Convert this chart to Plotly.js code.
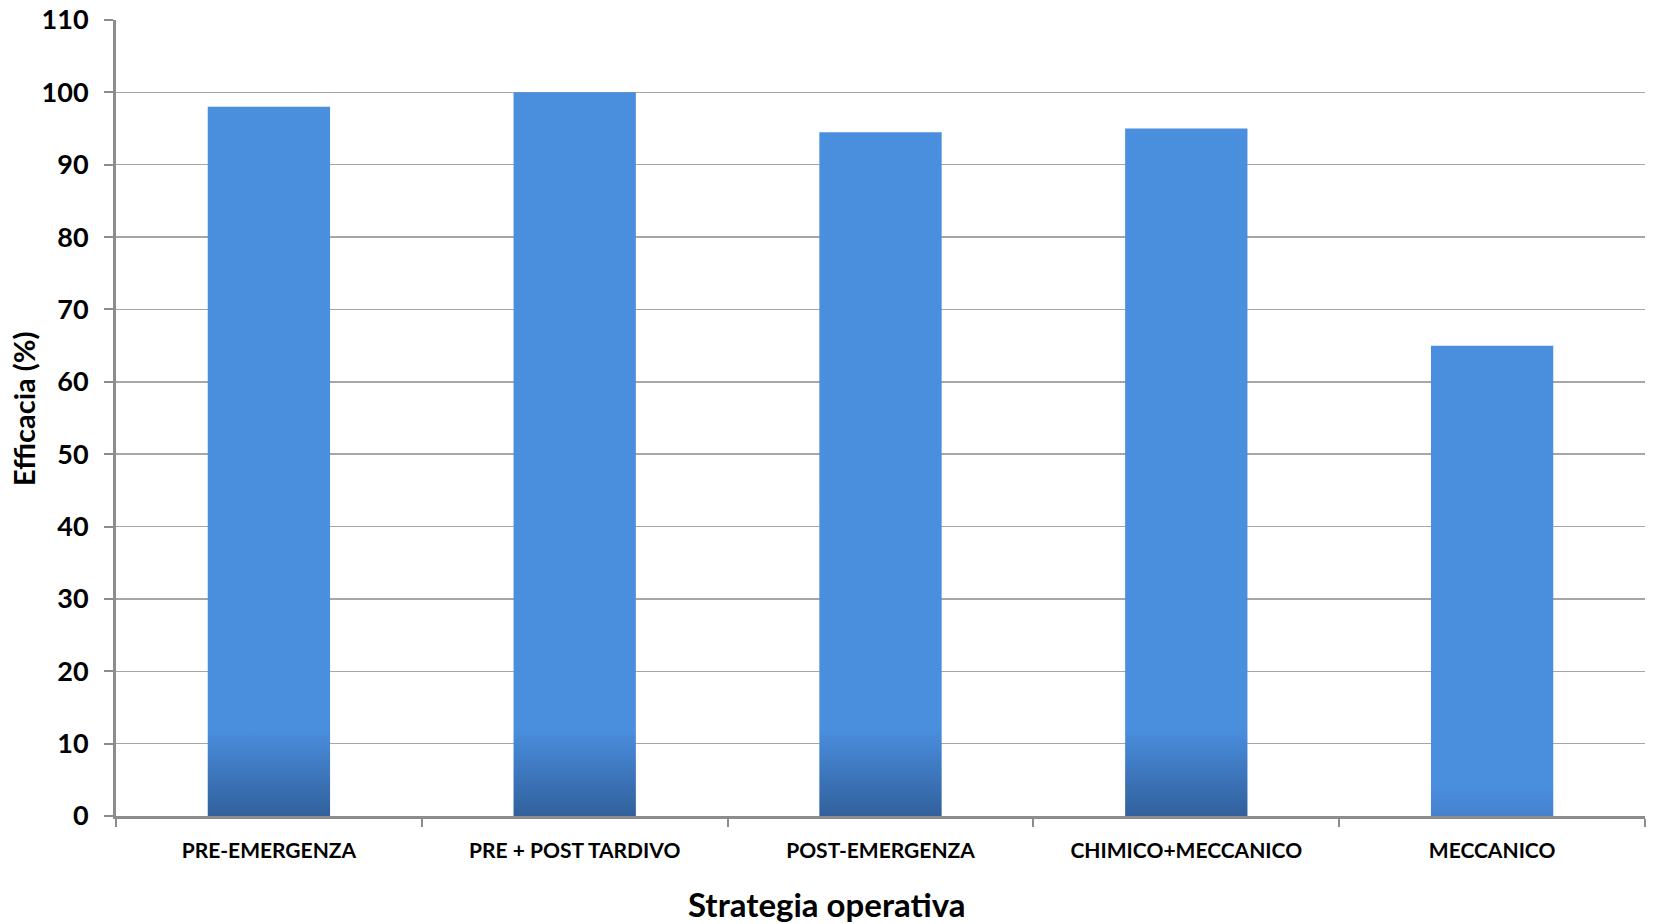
<!DOCTYPE html>
<html>
<head>
<meta charset="utf-8">
<script src="https://cdn.plot.ly/plotly-3.0.1.min.js"></script>
<style>html,body{margin:0;padding:0;background:#fff;}#chart{width:1654px;height:924px;}</style>
</head>
<body>
<div id="chart"></div>
<script>
// Data
const categories = ["PRE-EMERGENZA", "PRE + POST TARDIVO", "POST-EMERGENZA", "CHIMICO+MECCANICO", "MECCANICO"];
const efficacy = [98, 100, 94.5, 95, 65];
const yTickValues = [0, 10, 20, 30, 40, 50, 60, 70, 80, 90, 100, 110];

// Styles
const barTopColor = "#4A8EDE";
const barBottomColors = ["#31609C", "#31609C", "#31609C", "#31609C", "#4580CC"];
const gradientDepth = [12, 12, 12, 12, 4]; // depth (in axis units) of the darker base shading

const font = "Lato, 'Open Sans', sans-serif";

const trace = {
  type: "bar",
  x: categories,
  y: efficacy,
  marker: { color: barTopColor, line: { width: 0 } },
  hoverinfo: "x+y"
};

const layout = {
  width: 1654,
  height: 924,
  margin: { l: 116, r: 9, t: 20, b: 108 },
  paper_bgcolor: "#ffffff",
  plot_bgcolor: "#ffffff",
  bargap: 0.6,
  showlegend: false,
  font: { family: font, color: "#000000" },
  xaxis: {
    type: "category",
    showline: true,
    linecolor: "#8c8c8c",
    linewidth: 3,
    ticks: "outside",
    tickson: "boundaries",
    ticklen: 8,
    tickwidth: 2,
    tickcolor: "#8c8c8c",
    ticklabelstandoff: 14,
    tickfont: { family: font, size: 21, color: "#000", weight: "bold" },
    showgrid: false,
    zeroline: false,
    fixedrange: true
  },
  yaxis: {
    range: [0, 110],
    tickvals: yTickValues,
    ticktext: yTickValues.map(String),
    showline: true,
    linecolor: "#8c8c8c",
    linewidth: 3,
    ticks: "outside",
    ticklen: 9,
    tickwidth: 2,
    tickcolor: "#8c8c8c",
    ticklabelstandoff: 10,
    tickfont: { family: font, size: 27, color: "#000", weight: "bold" },
    showgrid: true,
    gridcolor: "#a6a6a6",
    gridwidth: 1.5,
    zeroline: false,
    fixedrange: true
  },
  annotations: [
    {
      text: "Strategia operativa",
      xref: "paper", yref: "paper",
      x: (827 - 116) / (1654 - 116 - 9), y: -0.11,
      xanchor: "center", yanchor: "middle",
      showarrow: false,
      font: { family: font, size: 33, color: "#000", weight: "bold" }
    },
    {
      text: "Efficacia (%)",
      xref: "paper", yref: "paper",
      x: -0.0605, y: 0.512,
      xanchor: "center", yanchor: "middle",
      textangle: -90,
      showarrow: false,
      font: { family: font, size: 29, color: "#000", weight: "bold" }
    }
  ]
};

Plotly.newPlot("chart", [trace], layout, { displayModeBar: false, staticPlot: true }).then(function (gd) {
  const svg = gd.querySelector(".main-svg");
  let defs = svg.querySelector("defs");
  const NS = "http://www.w3.org/2000/svg";
  const paths = gd.querySelectorAll(".trace.bars .point path");
  paths.forEach(function (p, i) {
    const g = document.createElementNS(NS, "linearGradient");
    g.setAttribute("id", "barGrad" + i);
    g.setAttribute("x1", "0"); g.setAttribute("y1", "0");
    g.setAttribute("x2", "0"); g.setAttribute("y2", "1");
    const startOff = Math.max(0, 1 - gradientDepth[i] / efficacy[i]);
    [[0, barTopColor], [startOff, barTopColor], [1, barBottomColors[i]]].forEach(function (s) {
      const st = document.createElementNS(NS, "stop");
      st.setAttribute("offset", s[0]);
      st.setAttribute("stop-color", s[1]);
      g.appendChild(st);
    });
    defs.appendChild(g);
    p.style.fill = "url(#barGrad" + i + ")";
  });
});
</script>
</body>
</html>
